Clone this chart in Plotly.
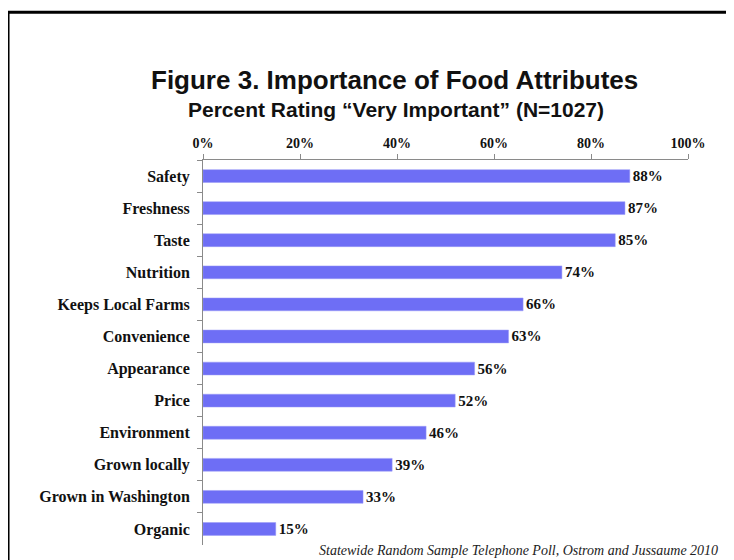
import plotly.graph_objects as go

attributes = ["Safety", "Freshness", "Taste", "Nutrition", "Keeps Local Farms",
              "Convenience", "Appearance", "Price", "Environment",
              "Grown locally", "Grown in Washington", "Organic"]
pct_very_important = [88, 87, 85, 74, 66, 63, 56, 52, 46, 39, 33, 15]
x_ticks = [0, 20, 40, 60, 80, 100]
x_tick_labels = ["0%", "20%", "40%", "60%", "80%", "100%"]

serif = "Liberation Serif, Times New Roman, serif"
sans = "Liberation Sans, Arial, sans-serif"

fig = go.Figure()
fig.add_trace(go.Bar(
    x=pct_very_important, y=attributes, orientation="h",
    marker=dict(color="#6e6ef5", line=dict(color="#9a9af7", width=0.5)),
    width=0.4,
    text=[f"{v}%" for v in pct_very_important],
    textposition="outside", cliponaxis=False, constraintext="none",
    textfont=dict(family=serif, size=15, color="#111", weight="bold"),
    hoverinfo="skip",
))

# page has an 8px body margin, so the plot is placed 8px up/left of the target
fig.update_layout(
    width=734, height=560,
    margin=dict(l=195, r=54, t=152, b=23),
    paper_bgcolor="white", plot_bgcolor="white",
    showlegend=False,
    xaxis=dict(
        side="top", range=[0, 100], tickvals=x_ticks, ticktext=x_tick_labels,
        showgrid=False, zeroline=False, showline=True, linecolor="#8a8a8a",
        ticks="outside", ticklen=5, tickcolor="#8a8a8a",
        tickfont=dict(family=serif, size=14, color="#111", weight="bold"),
    ),
    yaxis=dict(
        autorange="reversed", showgrid=False, zeroline=False,
        showline=True, linecolor="#8a8a8a",
        ticks="outside", ticklen=5, tickcolor="#8a8a8a", tickson="boundaries",
        ticklabelstandoff=9,
        tickfont=dict(family=serif, size=16, color="#111", weight="bold"),
    ),
)

# titles and source note
fig.add_annotation(text="<b>Figure 3. Importance of Food Attributes</b>",
                   xref="paper", yref="paper", x=0.395, y=1.208, yanchor="middle",
                   showarrow=False, font=dict(family=sans, size=26, color="#111"))
fig.add_annotation(text="<b>Percent Rating “Very Important” (N=1027)</b>",
                   xref="paper", yref="paper", x=0.397, y=1.13, yanchor="middle",
                   showarrow=False, font=dict(family=sans, size=21, color="#111"))
fig.add_annotation(text="<i>Statewide Random Sample Telephone Poll, Ostrom and Jussaume 2010</i>",
                   xref="paper", yref="paper", x=1.066, y=-0.013,
                   xanchor="right", yanchor="middle",
                   showarrow=False, font=dict(family=serif, size=14, color="#222"))

# slide frame
fig.add_shape(type="rect", xref="paper", yref="paper",
              x0=-0.402, y0=-0.3, x1=1.3, y1=1.384,
              line=dict(color="black", width=3))

fig.write_html("out.html")
